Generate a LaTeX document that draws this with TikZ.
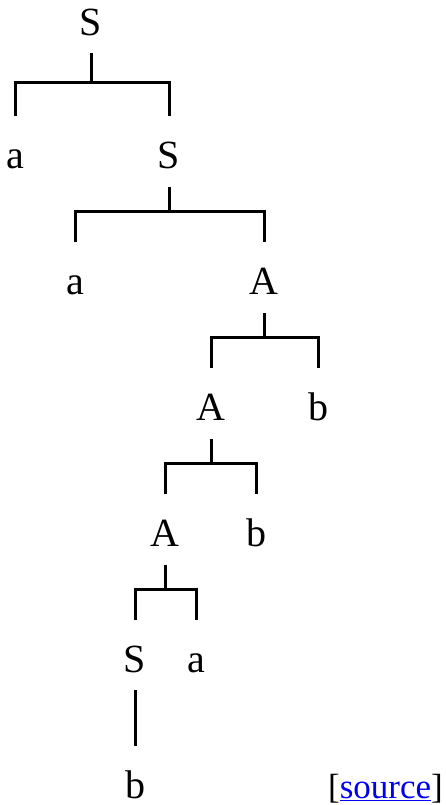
\documentclass[tikz,border=0pt]{standalone}
\usepackage{fontspec}
\setmainfont{Liberation Serif}
\usetikzlibrary{positioning}
\definecolor{linkblue}{HTML}{0000EE}

\begin{document}
\begin{tikzpicture}[
			x=1pt, y=1pt,
			node distance=55.5pt,
			sym/.style={inner sep=0pt, text height=52pt, text depth=18pt, font=\fontsize{40}{40}\selectfont},
			branch/.style={line width=3pt}
			]
			\useasboundingbox (0,0) rectangle (446,-805);
			\node[sym, anchor=base] (s1) at (91,-35.25) {S};
			\node[sym, below=63pt of s1, xshift=-76pt] (a1) {a};
			\node[sym, below=63pt of s1, xshift=78pt] (s2) {S};
			\node[sym, below=of s2, xshift=-94pt] (a2) {a};
			\node[sym, below=of s2, xshift=95pt] (A1) {A};
			\node[sym, below=of A1, xshift=-53pt] (A2) {A};
			\node[sym, below=of A1, xshift=54pt] (b1) {b};
			\node[sym, below=of A2, xshift=-46pt] (A3) {A};
			\node[sym, below=of A2, xshift=45pt] (b2) {b};
			\node[sym, below=of A3, xshift=-30pt] (s3) {S};
			\node[sym, below=of A3, xshift=31pt] (a3) {a};
			\node[sym, text depth=2pt, below=of s3] (b3) {b};
			\node[anchor=base west, inner sep=0pt, font=\fontsize{35}{35}\selectfont] (src) at ([xshift=193pt]b3.base) {[\textcolor{linkblue}{\underline{source}}]};
			% joints of the brackets
			\coordinate[below=29pt of s1.south] (j1);
			\coordinate[below=25pt of s2.south] (j2);
			\coordinate[below=25pt of A1.south] (j3);
			\coordinate[below=25pt of A2.south] (j4);
			\coordinate[below=25pt of A3.south] (j5);
			\draw[branch] (s1.south) -- (j1);
			\draw[branch] (a1.north) |- (j1) -| (s2.north);
			\draw[branch] (s2.south) -- (j2);
			\draw[branch] (a2.north) |- (j2) -| (A1.north);
			\draw[branch] (A1.south) -- (j3);
			\draw[branch] (A2.north) |- (j3) -| (b1.north);
			\draw[branch] (A2.south) -- (j4);
			\draw[branch] (A3.north) |- (j4) -| (b2.north);
			\draw[branch] (A3.south) -- (j5);
			\draw[branch] (s3.north) |- (j5) -| (a3.north);
			\draw[branch] (s3.south) -- (b3.north);
		\end{tikzpicture}
\end{document}
